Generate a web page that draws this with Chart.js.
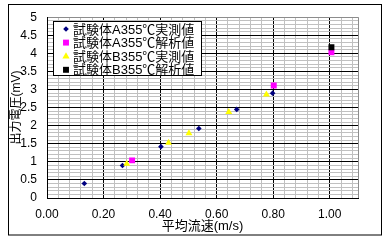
<!DOCTYPE html>
<html>
<head>
<meta charset="utf-8">
<script src="https://cdn.jsdelivr.net/npm/chart.js@4"></script>
<style>
  body { margin: 0; background: #fff; }
</style>
</head>
<body>
<canvas id="velocityChart" width="390" height="240"></canvas>
<script>
// values
const seriesNames = ['試験体A355℃実測値', '試験体A355℃解析値', '試験体B355℃実測値', '試験体B355℃解析値'];

const velocityA = [0.132, 0.267, 0.403, 0.537, 0.671, 0.798];
const voltageA = [0.40, 0.90, 1.42, 1.92, 2.45, 2.90];
const velocityAcalc = [0.301, 0.802, 1.006];
const voltageAcalc = [1.04, 3.11, 4.03];
const velocityB = [0.282, 0.430, 0.502, 0.643, 0.776];
const voltageB = [0.95, 1.53, 1.79, 2.38, 2.86];
const velocityBcalc = [1.006];
const voltageBcalc = [4.17];

const xTickLabels = ['0.00', '0.20', '0.40', '0.60', '0.80', '1.00'];
const yTickLabels = ['0', '0.5', '1', '1.5', '2', '2.5', '3', '3.5', '4', '4.5', '5'];

const xMax = 1.1, xMinor = 0.04, xMajor = 0.2;
const yMax = 5, yMinor = 0.1, yMajor = 0.5;

function toPoints(xs, ys) {
    return xs.map((x, i) => ({ x: x, y: ys[i] }));
}

function isMultiple(v, step) {
    const r = v / step;
    return Math.abs(r - Math.round(r)) < 1e-6;
}

Chart.defaults.font.family = '"Liberation Sans", Arial, "Noto Sans CJK JP", sans-serif';
Chart.defaults.color = '#000';

// white page with the black frame round the whole chart
const frame = {
    id: 'frame',
    beforeDraw(chart) {
        const c = chart.ctx;
        c.save();
        c.fillStyle = '#fff';
        c.fillRect(0, 0, chart.width, chart.height);
        c.strokeStyle = '#000';
        c.lineWidth = 1;
        c.strokeRect(8.5, 4.5, 373, 230.5);
        c.restore();
    }
};

function drawMarker(c, style, r, x, y) {
    c.beginPath();
    if (style === 'rectRot') {
        c.moveTo(x, y - r); c.lineTo(x + r, y); c.lineTo(x, y + r); c.lineTo(x - r, y);
    } else if (style === 'triangle') {
        c.moveTo(x, y - r); c.lineTo(x + r * 0.9, y + r * 0.6); c.lineTo(x - r * 0.9, y + r * 0.6);
    } else {
        const s = r * Math.SQRT1_2;
        c.rect(x - s, y - s, 2 * s, 2 * s);
    }
    c.closePath();
    c.fill();
}

// boxed legend inside the plot, as in the reference
const boxLegend = {
    id: 'boxLegend',
    afterDraw(chart) {
        const c = chart.ctx;
        c.save();
        c.fillStyle = '#fff';
        c.fillRect(53.5, 21.5, 148, 54);
        c.strokeStyle = '#000';
        c.lineWidth = 1;
        c.strokeRect(53.5, 21.5, 148, 54);
        c.font = '13px "Liberation Sans", Arial, "Noto Sans CJK JP", sans-serif';
        c.textBaseline = 'middle';
        chart.data.datasets.forEach((ds, i) => {
            const y = 29 + i * 13.6;
            c.fillStyle = ds.backgroundColor;
            drawMarker(c, ds.pointStyle, ds.pointRadius, 66, y);
            c.fillStyle = '#000';
            c.fillText(ds.label, 73, y + 1);
        });
        c.restore();
    }
};

const ctx = document.getElementById('velocityChart').getContext('2d');

const velocityChart = new Chart(ctx, {
    type: 'scatter',
    data: {
        datasets: [{
            label: seriesNames[0],
            data: toPoints(velocityA, voltageA),
            pointStyle: 'rectRot',
            pointRadius: 2.8,
            backgroundColor: '#000080',
            borderColor: '#000080',
            borderWidth: 0,
            order: 4
        }, {
            label: seriesNames[1],
            data: toPoints(velocityAcalc, voltageAcalc),
            pointStyle: 'rect',
            pointRadius: 4.2,
            backgroundColor: '#ff00ff',
            borderColor: '#ff00ff',
            borderWidth: 0,
            order: 3
        }, {
            label: seriesNames[2],
            data: toPoints(velocityB, voltageB),
            pointStyle: 'triangle',
            pointRadius: 4,
            backgroundColor: '#ffff00',
            borderColor: '#ffff00',
            borderWidth: 0,
            order: 2
        }, {
            label: seriesNames[3],
            data: toPoints(velocityBcalc, voltageBcalc),
            pointStyle: 'rect',
            pointRadius: 4.2,
            backgroundColor: '#000000',
            borderColor: '#000000',
            borderWidth: 0,
            order: 1
        }]
    },
    options: {
        responsive: false,
        animation: false,
        devicePixelRatio: 1,
        layout: { padding: { left: 0, right: 32, top: 16, bottom: 0 } },
        plugins: {
            legend: { display: false },
            tooltip: { enabled: false }
        },
        scales: {
            x: {
                type: 'linear',
                min: 0,
                max: xMax,
                afterBuildTicks(axis) {
                    const ticks = [];
                    for (let i = 0; i * xMinor < xMax - 1e-9; i++) ticks.push({ value: +(i * xMinor).toFixed(2) });
                    ticks.push({ value: xMax });
                    axis.ticks = ticks;
                },
                afterFit(axis) { axis.height = 42; },
                ticks: {
                    autoSkip: false,
                    maxRotation: 0,
                    minRotation: 0,
                    padding: 9,
                    font: { size: 12 },
                    callback(v) {
                        if (!isMultiple(v, xMajor)) return '';
                        return xTickLabels[Math.round(v / xMajor)] || '';
                    }
                },
                grid: {
                    drawTicks: false,
                    color(c) {
                        const v = c.tick.value;
                        if (v >= xMax - 1e-9) return '#8c8c8c';
                        return isMultiple(v, xMajor) ? '#000' : '#c0c0c0';
                    }
                },
                border: { color: '#000' },
                title: {
                    display: true,
                    text: '平均流速(m/s)',
                    font: { size: 13 },
                    padding: { top: 0, bottom: 6 }
                }
            },
            y: {
                type: 'linear',
                min: 0,
                max: yMax,
                afterBuildTicks(axis) {
                    const ticks = [];
                    for (let i = 0; i <= Math.round(yMax / yMinor); i++) ticks.push({ value: +(i * yMinor).toFixed(1) });
                    axis.ticks = ticks;
                },
                afterFit(axis) { axis.width = 47; },
                ticks: {
                    autoSkip: false,
                    padding: 10,
                    font: { size: 12 },
                    callback(v) {
                        if (!isMultiple(v, yMajor)) return '';
                        return yTickLabels[Math.round(v / yMajor)] || '';
                    }
                },
                grid: {
                    drawTicks: false,
                    color(c) {
                        const v = c.tick.value;
                        if (v >= yMax - 1e-9) return '#8c8c8c';
                        return isMultiple(v, yMajor) ? '#000' : '#c0c0c0';
                    }
                },
                border: { color: '#000' },
                title: {
                    display: true,
                    text: '出力電圧(mV)',
                    font: { size: 12 },
                    padding: { top: 9, bottom: 0 }
                }
            }
        }
    },
    plugins: [frame, boxLegend]
});
</script>
</body>
</html>
